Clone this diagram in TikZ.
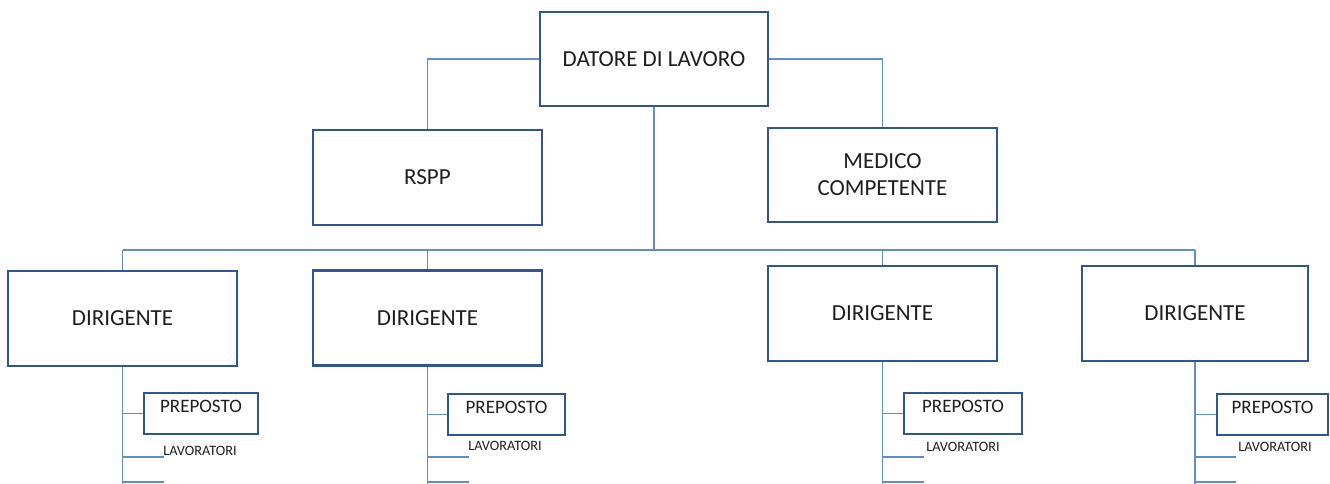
\documentclass[tikz,border=0pt]{standalone}
\usepackage{fontspec}
\setmainfont{Carlito}
\definecolor{boxblue}{RGB}{47,85,151}
\definecolor{lineblue}{RGB}{100,140,205}
\definecolor{txtgray}{RGB}{30,30,30}

\begin{document}
\begin{tikzpicture}[x=1pt, y=-1pt,
  ruolo/.style={draw=boxblue, line width=2.4pt, minimum width=229pt, minimum height=95pt,
    text=txtgray, font=\fontsize{23}{27}\selectfont, align=center},
  prep/.style={draw=boxblue, line width=2pt, minimum width=114pt, inner sep=0pt,
    text height=19pt, text depth=22pt, anchor=north, text=txtgray, font=\fontsize{19}{21}\selectfont},
  lav/.style={text=txtgray, font=\fontsize{14.3}{16}\selectfont, inner sep=0pt},
  conn/.style={draw=lineblue, line width=1.1pt}]
  \useasboundingbox (0,0) rectangle (1330,484);

  \node[ruolo, minimum width=228pt, minimum height=94pt] (datore) at (654,59) {DATORE DI LAVORO};
  \node[ruolo] (rspp) at (427.5,177.5) {RSPP};
  \node[ruolo, minimum height=94pt] (medico) at (882.5,175) {MEDICO\\COMPETENTE};
  \node[ruolo] (dir1) at (122.5,318.5) {DIRIGENTE};
  \node[ruolo] (dir2) at (427.5,318) {DIRIGENTE};
  \node[ruolo] (dir3) at (882.5,313.5) {DIRIGENTE};
  \node[ruolo, minimum width=226pt] (dir4) at (1195,313.5) {DIRIGENTE};

  \node[prep] (prep1) at (201,392) {PREPOSTO};
  \node[prep, minimum width=117pt] (prep2) at (506.5,393) {PREPOSTO};
  \node[prep, minimum width=118pt] (prep3) at (963,392) {PREPOSTO};
  \node[prep, minimum width=111pt] (prep4) at (1272.5,393) {PREPOSTO};

  \node[lav] (lav1) at (200,451) {LAVORATORI};
  \node[lav] (lav2) at (505,446) {LAVORATORI};
  \node[lav] (lav3) at (963,447) {LAVORATORI};
  \node[lav] (lav4) at (1275,447) {LAVORATORI};

  % collegamenti
  \coordinate (bus) at (0,250);
  \draw[conn] (datore.west) -| (rspp.north);
  \draw[conn] (datore.east) -| (medico.north);
  \draw[conn] (datore.south) -- (datore.south |- bus);
  \draw[conn] (dir1.north |- bus) -- (dir4.north |- bus);
  \foreach \d/\p in {dir1/prep1, dir2/prep2, dir3/prep3, dir4/prep4} {
    \coordinate (\d fine) at (\d.south |- 0,486);
    \draw[conn] (\d.south) -- (\d fine);
    \draw[conn] (\d.north |- bus) -- (\d.north);
    \draw[conn] (\d.south |- \p.west) -- (\p.west);
    \draw[conn] (\d.south |- 0,457) -- ++(41,0);
    \draw[conn] (\d.south |- 0,482) -- ++(41,0);
  }
\end{tikzpicture}
\end{document}
